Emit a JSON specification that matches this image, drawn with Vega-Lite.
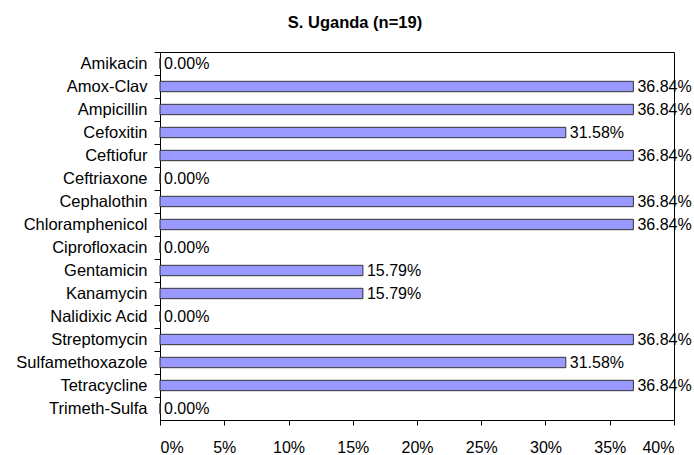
{
  "$schema": "https://vega.github.io/schema/vega-lite/v6.json",
  "autosize": {"type": "none"},
  "width": 514,
  "height": 368,
  "padding": {"left": 160, "top": 52, "right": 20, "bottom": 35},
  "title": {"text": "S. Uganda (n=19)", "font": "Liberation Sans", "fontSize": 16.5, "fontWeight": "bold", "color": "#000000", "anchor": "middle", "dx": -62, "offset": 20},
  "config": {
    "view": {"stroke": "#000000", "strokeWidth": 1},
    "font": "Liberation Sans",
    "axis": {"labelFont": "Liberation Sans", "labelFontSize": 16, "labelColor": "#000000", "domainColor": "#000000", "tickColor": "#000000", "grid": false, "title": null}
  },
  "data": {"values": [
    {"drug": "Amikacin", "pct": 0},
    {"drug": "Amox-Clav", "pct": 0.3684},
    {"drug": "Ampicillin", "pct": 0.3684},
    {"drug": "Cefoxitin", "pct": 0.3158},
    {"drug": "Ceftiofur", "pct": 0.3684},
    {"drug": "Ceftriaxone", "pct": 0},
    {"drug": "Cephalothin", "pct": 0.3684},
    {"drug": "Chloramphenicol", "pct": 0.3684},
    {"drug": "Ciprofloxacin", "pct": 0},
    {"drug": "Gentamicin", "pct": 0.1579},
    {"drug": "Kanamycin", "pct": 0.1579},
    {"drug": "Nalidixic Acid", "pct": 0},
    {"drug": "Streptomycin", "pct": 0.3684},
    {"drug": "Sulfamethoxazole", "pct": 0.3158},
    {"drug": "Tetracycline", "pct": 0.3684},
    {"drug": "Trimeth-Sulfa", "pct": 0}
  ]},
  "encoding": {
    "y": {"field": "drug", "type": "nominal", "sort": null, "scale": {"paddingInner": 0, "paddingOuter": 0},
          "axis": {"orient": "left", "ticks": true, "tickSize": 6, "tickWidth": 1, "bandPosition": 0, "labelPadding": 7, "labelFontSize": 16.5, "domain": true}},
    "x": {"field": "pct", "type": "quantitative", "scale": {"domain": [0, 0.4], "nice": false},
          "axis": {"values": [0, 0.05, 0.1, 0.15, 0.2, 0.25, 0.3, 0.35, 0.4], "format": "%", "tickSize": 5, "labelPadding": 14}}
  },
  "layer": [
    {
      "mark": {"type": "bar", "fill": "#9999FF", "stroke": "#333333", "strokeWidth": 1, "height": {"band": 0.45}}
    },
    {
      "mark": {"type": "text", "align": "left", "baseline": "middle", "dx": 4, "fontSize": 16, "font": "Liberation Sans", "color": "#000000"},
      "encoding": {
        "text": {"field": "pct", "type": "quantitative", "format": ".2%"}
      }
    }
  ]
}
